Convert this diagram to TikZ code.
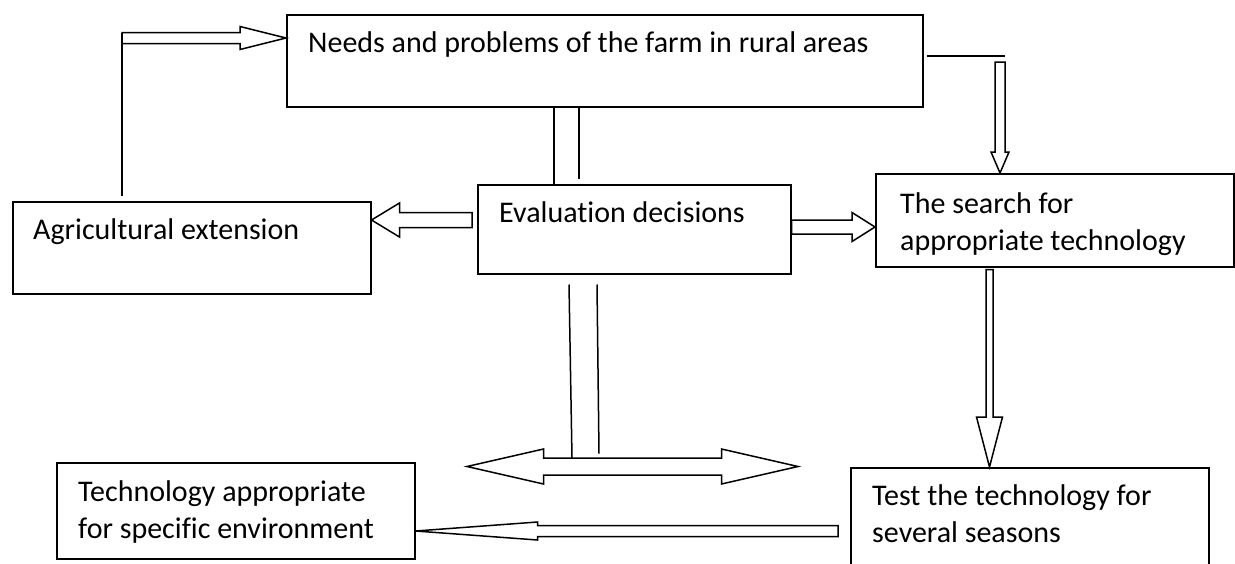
\documentclass[tikz,border=0pt]{standalone}
\usepackage{fontspec}
\setmainfont{Carlito}[Ligatures={NoCommon}]
\usetikzlibrary{calc}

% hollow block arrow: from, to, half shaft, half head, head length
\newcommand{\fatarrow}[5]{%
  \coordinate (fa-h) at ($#2!#5!#1$);
  \draw[hollow] ($#1!#3!90:#2$) -- ($(fa-h)!#3!90:#2$) -- ($(fa-h)!#4!90:#2$) -- #2
    -- ($(fa-h)!#4!-90:#2$) -- ($(fa-h)!#3!-90:#2$) -- ($#1!#3!-90:#2$) -- cycle;
}
% hollow double arrow: left tip, right tip, half shaft, half head, head length
\newcommand{\fatdblarrow}[5]{%
  \coordinate (fd-a) at ($#1!#5!#2$);
  \coordinate (fd-b) at ($#2!#5!#1$);
  \draw[hollow] #1 -- ($(fd-a)!#4!90:#2$) -- ($(fd-a)!#3!90:#2$) -- ($(fd-b)!#3!-90:#1$)
    -- ($(fd-b)!#4!-90:#1$) -- #2 -- ($(fd-b)!#4!90:#1$) -- ($(fd-b)!#3!90:#1$)
    -- ($(fd-a)!#3!-90:#2$) -- ($(fd-a)!#4!-90:#2$) -- cycle;
}

\begin{document}
\begin{tikzpicture}[
    x=1pt, y=-1pt,
    box/.style={rectangle, draw=black, line width=1.5pt, anchor=north west, inner sep=0pt},
    boxtext/.style={anchor=north west, inner sep=0pt, align=left, font=\fontsize{30}{37}\selectfont},
    hollow/.style={draw=black, fill=white, line width=1.5pt, line join=miter},
    wire/.style={draw=black, line width=1.5pt},
]
\useasboundingbox (0,0) rectangle (1235,563);
\clip (0,0) rectangle (1235,563);

% === BOXES ===
\node[box, minimum width=636pt, minimum height=92pt] (needs) at (286,14) {};
\node[box, minimum width=358pt, minimum height=92pt] (agri) at (12,201) {};
\node[box, minimum width=313pt, minimum height=89pt] (eval) at (477,184) {};
\node[box, minimum width=358pt, minimum height=93pt] (search) at (875,173) {};
\node[box, minimum width=358pt, minimum height=120pt] (test) at (850,467) {};
\node[box, minimum width=358pt, minimum height=96pt] (tech) at (56,462) {};

% === TEXTS ===
\node[boxtext] (needs-txt) at ($(needs.north west)+(22,12)$) {\strut Needs and problems of the farm in rural areas};
\node[boxtext] (agri-txt) at ($(agri.north west)+(21,12)$) {\strut Agricultural extension};
\node[boxtext] (eval-txt) at ($(eval.north west)+(22,12)$) {\strut Evaluation decisions};
\node[boxtext] (search-txt) at ($(search.north west)+(25,14)$) {\strut The search for\\appropriate technology};
\node[boxtext] (test-txt) at ($(test.north west)+(22,12)$) {\strut Test the technology for\\several seasons};
\node[boxtext] (tech-txt) at ($(tech.north west)+(22,13)$) {\strut Technology appropriate\\for specific environment};

% === CONNECTORS ===
% extension back up to the needs box
\coordinate (agri-up) at ($(agri.north west)+(110,-5)$);
\coordinate (needs-in) at ($(needs.north west)+(0,24)$);
\coordinate (loop-top) at (agri-up |- needs-in);
\draw[wire] (agri-up) -- ($(loop-top)+(0,-5.5)$);
\fatarrow{(loop-top)}{(needs-in)}{5.5pt}{11.5pt}{46pt}

% needs down to the search
\coordinate (needs-out) at ($(needs.north east)+(3,42)$);
\coordinate (search-in) at ($(search.north west)+(125,0)$);
\coordinate (drop-top) at ($(search-in |- needs-out)+(0,6)$);
\draw[wire] (needs-out) -- ($(drop-top)+(5,-6)$);
\fatarrow{(drop-top)}{(search-in)}{5pt}{9pt}{21pt}

% needs to evaluation
\coordinate (link-a) at ($(eval.north west)+(77,0)$);
\coordinate (link-b) at ($(eval.north west)+(102,-5)$);
\draw[wire] (link-a) -- (link-a |- needs.south);
\draw[wire] (link-b) -- (link-b |- needs.south);

% evaluation to both sides
\coordinate (eval-l) at ($(eval.north west)+(-5,36)$);
\coordinate (agri-in) at (agri.north east |- eval-l);
\fatarrow{(eval-l)}{(agri-in)}{7.5pt}{17pt}{28pt}
\coordinate (eval-r) at ($(eval.north east)+(0,43)$);
\coordinate (search-l) at (search.north west |- eval-r);
\fatarrow{(eval-r)}{(search-l)}{7pt}{14.5pt}{23pt}

% search down to the test
\coordinate (search-out) at ($(search.south west)+(114.5,2)$);
\coordinate (test-in) at (search-out |- test.north);
\fatarrow{(search-out)}{(test-in)}{3.5pt}{13pt}{50pt}

% test to appropriate technology
\coordinate (test-l) at ($(test.north west)+(-12,64)$);
\coordinate (tech-in) at (tech.north east |- test-l);
\fatarrow{(test-l)}{(tech-in)}{5.5pt}{9pt}{122pt}

% evaluation down to the double arrow
\coordinate (dbl-l) at ($(eval.south west)+(-10,192)$);
\coordinate (dbl-r) at ($(dbl-l)+(331,0)$);
\draw[wire] ($(eval.south west)+(92,10)$) -- ($(dbl-l)+(105,-8.5)$);
\draw[wire] ($(eval.south west)+(120,10)$) -- ($(dbl-l)+(132,-13)$);
\fatdblarrow{(dbl-l)}{(dbl-r)}{8.5pt}{17.5pt}{76.5pt}

\end{tikzpicture}
\end{document}
